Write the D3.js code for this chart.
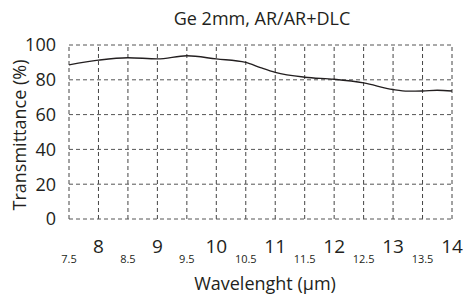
<!DOCTYPE html>
<html>
<head>
<meta charset="utf-8">
<script src="https://cdn.jsdelivr.net/npm/d3@7"></script>
<style>
  body { margin: 0; background: #fff; }
  text { font-family: "Open Sans", sans-serif; fill: #231f20; }
</style>
</head>
<body>
<div id="chart"></div>
<script>
// Wavelength (um) and transmittance (%)
const wavelength = [7.5, 8.0, 8.5, 9.0, 9.5, 10.0, 10.5, 10.75, 11.0, 11.5, 12.0, 12.5, 13.0, 13.25, 13.5, 13.75, 14.0];
const transmittance = [88.6, 91.3, 92.7, 92.0, 93.8, 92.0, 90.0, 87.0, 84.3, 81.5, 80.3, 78.2, 74.4, 73.5, 73.6, 74.0, 73.6];

const majorTicks = [8, 9, 10, 11, 12, 13, 14];
const minorTicks = [7.5, 8.5, 9.5, 10.5, 11.5, 12.5, 13.5];
const yTicks = [0, 20, 40, 60, 80, 100];
const gridX = d3.range(7.5, 14.01, 0.5);

const title = "Ge 2mm, AR/AR+DLC";
const xTitle = "Wavelenght (\u00b5m)";
const yTitle = "Transmittance (%)";

const width = 465, height = 294;
const margin = { top: 45, right: 13, bottom: 75, left: 69 };

const svg = d3.select("#chart")
    .append("svg")
    .attr("width", width)
    .attr("height", height);

const xScale = d3.scaleLinear()
    .domain([7.5, 14])
    .range([margin.left, width - margin.right]);

const yScale = d3.scaleLinear()
    .domain([0, 100])
    .range([height - margin.bottom, margin.top]);

// Dashed grid (also forms the frame)
svg.append("g")
    .selectAll("line")
    .data(gridX)
    .enter()
    .append("line")
    .attr("x1", d => xScale(d))
    .attr("x2", d => xScale(d))
    .attr("y1", yScale(0))
    .attr("y2", yScale(100))
    .attr("stroke", "#444")
    .attr("stroke-width", 1)
    .attr("stroke-dasharray", "4,3");

svg.append("g")
    .selectAll("line")
    .data(yTicks)
    .enter()
    .append("line")
    .attr("x1", xScale(7.5))
    .attr("x2", xScale(14))
    .attr("y1", d => yScale(d))
    .attr("y2", d => yScale(d))
    .attr("stroke", "#555")
    .attr("stroke-width", 1)
    .attr("stroke-dasharray", "4,3");

// Curve
const line = d3.line()
    .x((d, i) => xScale(wavelength[i]))
    .y(d => yScale(d))
    .curve(d3.curveMonotoneX);

svg.append("path")
    .datum(transmittance)
    .attr("d", line)
    .attr("fill", "none")
    .attr("stroke", "#231f20")
    .attr("stroke-width", 1.4);

// Y tick labels
svg.append("g")
    .selectAll("text")
    .data(yTicks)
    .enter()
    .append("text")
    .attr("x", margin.left - 13)
    .attr("y", d => yScale(d))
    .attr("dy", "0.35em")
    .attr("text-anchor", "end")
    .attr("font-size", "18px")
    .text(d => d);

// X tick labels: big integers, small half steps below
svg.append("g")
    .selectAll("text")
    .data(majorTicks)
    .enter()
    .append("text")
    .attr("x", d => xScale(d))
    .attr("y", 253)
    .attr("text-anchor", "middle")
    .attr("font-size", "19px")
    .text(d => d);

svg.append("g")
    .selectAll("text")
    .data(minorTicks)
    .enter()
    .append("text")
    .attr("x", d => xScale(d))
    .attr("y", 263)
    .attr("text-anchor", "middle")
    .attr("font-size", "11px")
    .text(d => d);

// Titles
svg.append("text")
    .attr("x", 262)
    .attr("y", 25)
    .attr("text-anchor", "middle")
    .attr("font-size", "18px")
    .text(title);

svg.append("text")
    .attr("x", 265)
    .attr("y", 290)
    .attr("text-anchor", "middle")
    .attr("font-size", "18px")
    .text(xTitle);

svg.append("text")
    .attr("transform", "rotate(-90)")
    .attr("x", -135)
    .attr("y", 26)
    .attr("text-anchor", "middle")
    .attr("font-size", "18px")
    .text(yTitle);
</script>
</body>
</html>
